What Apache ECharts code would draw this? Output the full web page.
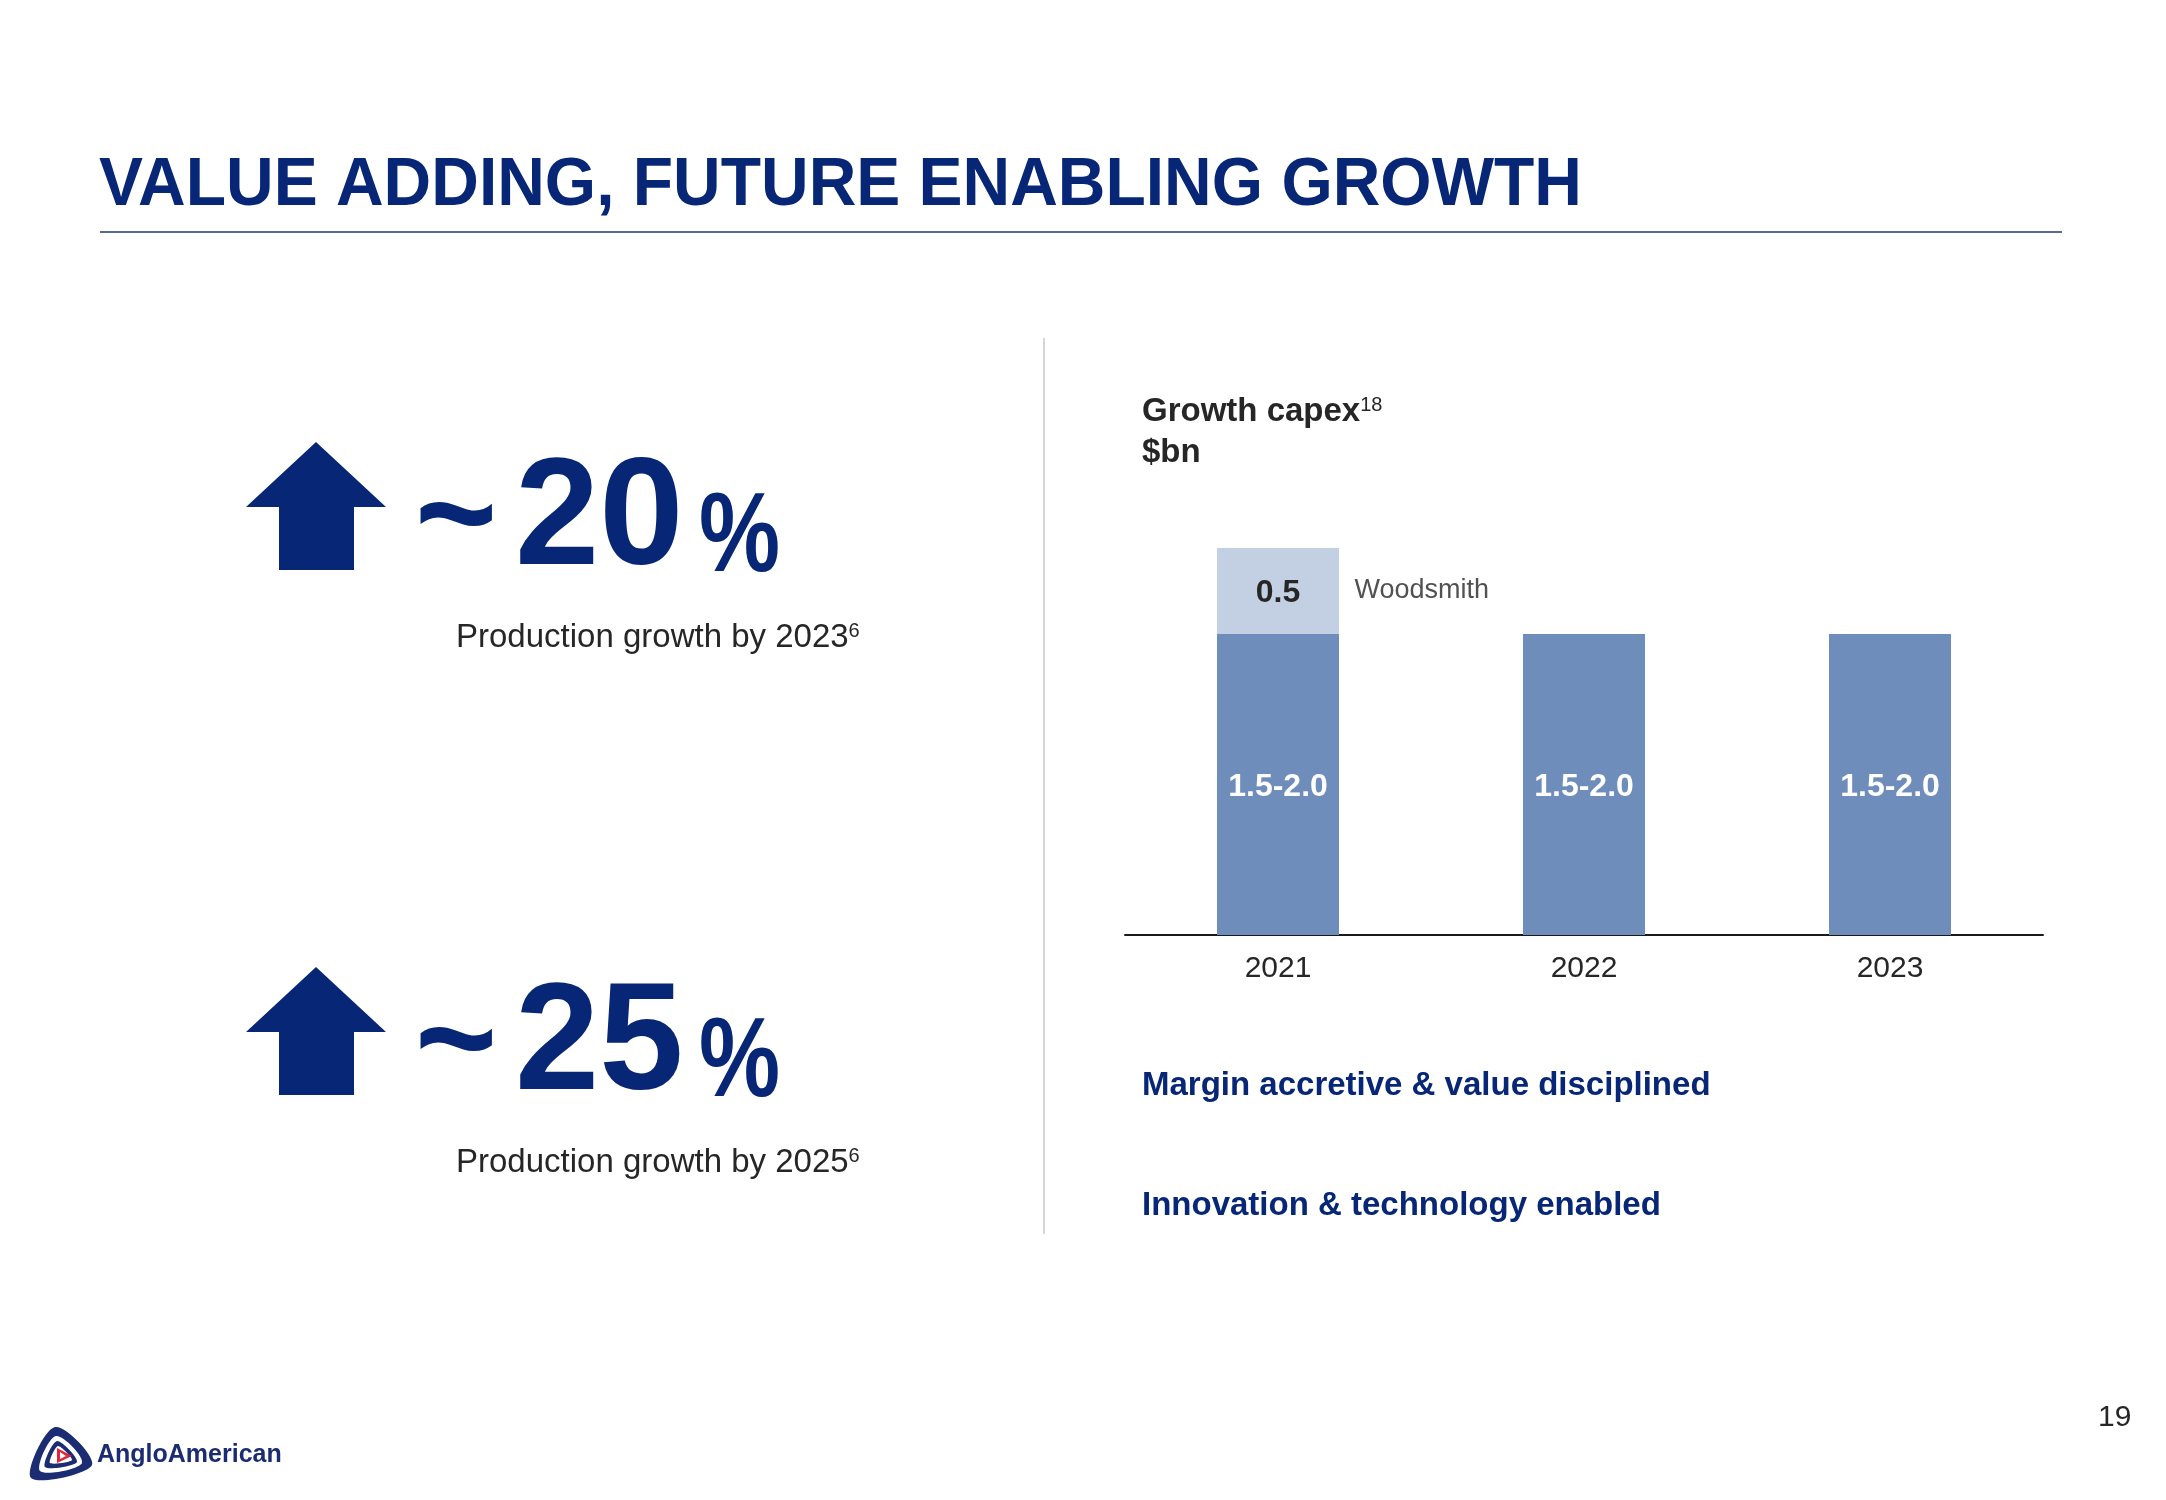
<!DOCTYPE html>
<html><head><meta charset="utf-8">
<script src="https://cdn.jsdelivr.net/npm/echarts@6/dist/echarts.min.js"></script>
<style>html,body{margin:0;padding:0;background:#fff}#c{width:2166px;height:1500px}</style>
</head><body><div id="c"></div>
<script>
// ---- data ----
const categories = ['2021', '2022', '2023'];
const coreCapex = [1.75, 1.75, 1.75];            // midpoint of the 1.5-2.0 range
const coreCapexLabels = ['1.5-2.0', '1.5-2.0', '1.5-2.0'];
const woodsmithCapex = [0.5, '-', '-'];
const woodsmithName = 'Woodsmith';
const headline = 'VALUE ADDING, FUTURE ENABLING GROWTH';
const chartTitle = 'Growth capex';
const chartTitleNote = '18';
const chartUnit = '$bn';
const growthFigures = ['20', '25'];
const growthCaptions = ['Production growth by 2023', 'Production growth by 2025'];
const growthNote = '6';
const bullets = ['Margin accretive & value disciplined', 'Innovation & technology enabled'];
const pageNumber = '19';
const brand = 'AngloAmerican';

// ---- style ----
const NAVY = '#072776';
const DARK = '#262626';
const BAR = '#6E8DBA';
const BAR_LIGHT = '#C3CFE2';
const FF = '"Liberation Sans", Arial, sans-serif';

const chart = echarts.init(document.getElementById('c'), null, {renderer: 'canvas'});

function txt(x, y, text, font, fill, opts) {
  opts = opts || {};
  const style = Object.assign({text: text, font: font, fill: fill,
    textAlign: 'left', align: 'left', textVerticalAlign: 'middle', verticalAlign: 'middle'}, opts.style || {});
  const el = {type: 'text', x: x, y: y, style: style};
  if (opts.scaleX) el.scaleX = opts.scaleX;
  return el;
}

const graphics = [];
// headline + rule
graphics.push(txt(99, 186, headline, 'bold 68px ' + FF, NAVY, {scaleX: 0.97}));
graphics.push({type: 'line', shape: {x1: 100, y1: 232, x2: 2062, y2: 232}, style: {stroke: '#1F3A6E', lineWidth: 1.5}});
// divider
graphics.push({type: 'line', shape: {x1: 1044, y1: 338, x2: 1044, y2: 1234}, style: {stroke: '#D6D6D6', lineWidth: 2}});

// left growth blocks
growthFigures.forEach(function (fig, i) {
  const dy = i * 525;
  graphics.push({type: 'polygon', shape: {points: [[316, 442 + dy], [386, 507 + dy], [354, 507 + dy], [354, 570 + dy], [279, 570 + dy], [279, 507 + dy], [246, 507 + dy]]}, style: {fill: NAVY}});
  graphics.push(txt(415, 522 + dy, '~', 'bold 153px ' + FF, NAVY, {scaleX: 0.92}));
  graphics.push(txt(515, 522 + dy, fig, 'bold 153px ' + FF, NAVY, {scaleX: 0.99}));
  graphics.push(txt(699, 540 + dy, '%', 'bold 114px ' + FF, NAVY, {scaleX: 0.8}));
  graphics.push(txt(456, 638 + dy, growthCaptions[i] + '{sup|' + growthNote + '}', '33px ' + FF, DARK,
    {style: {rich: {sup: {fontSize: 20, fontFamily: FF, fill: DARK, color: DARK, verticalAlign: 'top'}}}}));
});

// chart header
graphics.push(txt(1142, 412, chartTitle + '{sup|' + chartTitleNote + '}', 'bold 33px ' + FF, DARK,
  {style: {rich: {sup: {fontSize: 20, fontFamily: FF, fill: DARK, color: DARK, verticalAlign: 'top'}}}}));
graphics.push(txt(1142, 453, chartUnit, 'bold 33px ' + FF, DARK));

// bullets
bullets.forEach(function (b, i) {
  graphics.push(txt(1142, 1086 + i * 120, b, 'bold 33px ' + FF, NAVY));
});

// page number
graphics.push(txt(2098, 1418, pageNumber, '30px ' + FF, DARK));

// logo
graphics.push({type: 'polygon', shape: {points: [[55, 1427], [92, 1465], [31, 1478]], smooth: 0.35}, style: {fill: '#1B2C72'}});
graphics.push({type: 'polygon', shape: {points: [[56, 1436], [82, 1463], [40, 1471]], smooth: 0.35}, style: {fill: '#fff'}});
graphics.push({type: 'polygon', shape: {points: [[57, 1441], [77, 1462], [45, 1467]], smooth: 0.3}, style: {fill: '#1B2C72'}});
graphics.push({type: 'polygon', shape: {points: [[58, 1446], [72, 1460], [50, 1463]], smooth: 0.25}, style: {fill: '#fff'}});
graphics.push({type: 'polygon', shape: {points: [[57, 1448], [72, 1456], [57, 1463]]}, style: {fill: '#E0243A'}});
graphics.push({type: 'polygon', shape: {points: [[60, 1452], [66, 1456], [60, 1459]]}, style: {fill: '#fff'}});
graphics.push(txt(97, 1455, brand, 'bold 25px ' + FF, '#1B2C72'));

const option = {
  backgroundColor: '#ffffff',
  animation: false,
  grid: {left: 1125, right: 123, top: 505, bottom: 565, containLabel: false, outerBoundsMode: 'none'},
  xAxis: {
    type: 'category', data: categories,
    axisLine: {show: true, lineStyle: {color: '#1a1a1a', width: 2}},
    axisTick: {show: false},
    axisLabel: {color: DARK, fontSize: 30, fontFamily: FF, margin: 19},
    splitLine: {show: false}
  },
  yAxis: {type: 'value', min: 0, max: 2.5, show: false, splitLine: {show: false}},
  series: [
    {
      name: 'Core', type: 'bar', stack: 'capex', data: coreCapex, barWidth: 122,
      itemStyle: {color: BAR},
      label: {show: true, position: 'inside', offset: [0, 3], color: '#fff', fontSize: 32, fontWeight: 'bold', fontFamily: FF,
        formatter: function (p) { return coreCapexLabels[p.dataIndex]; }}
    },
    {
      name: woodsmithName, type: 'bar', stack: 'capex', data: woodsmithCapex, barWidth: 122,
      itemStyle: {color: BAR_LIGHT},
      label: {show: true, position: 'inside', offset: [0, 2], color: DARK, fontSize: 32, fontWeight: 'bold', fontFamily: FF,
        formatter: function (p) { return String(p.value); }}
    },
    {
      name: 'WoodsmithTag', type: 'scatter', symbolSize: 1, itemStyle: {color: 'rgba(0,0,0,0)'},
      data: [[categories[0], coreCapex[0] + woodsmithCapex[0] / 2]],
      label: {show: true, position: 'right', distance: 76, color: DARK, fontSize: 27, fontFamily: FF,
        formatter: function () { return woodsmithName; }},
      silent: true
    }
  ],
  graphic: {elements: graphics}
};
chart.setOption(option);
</script>
</body></html>
